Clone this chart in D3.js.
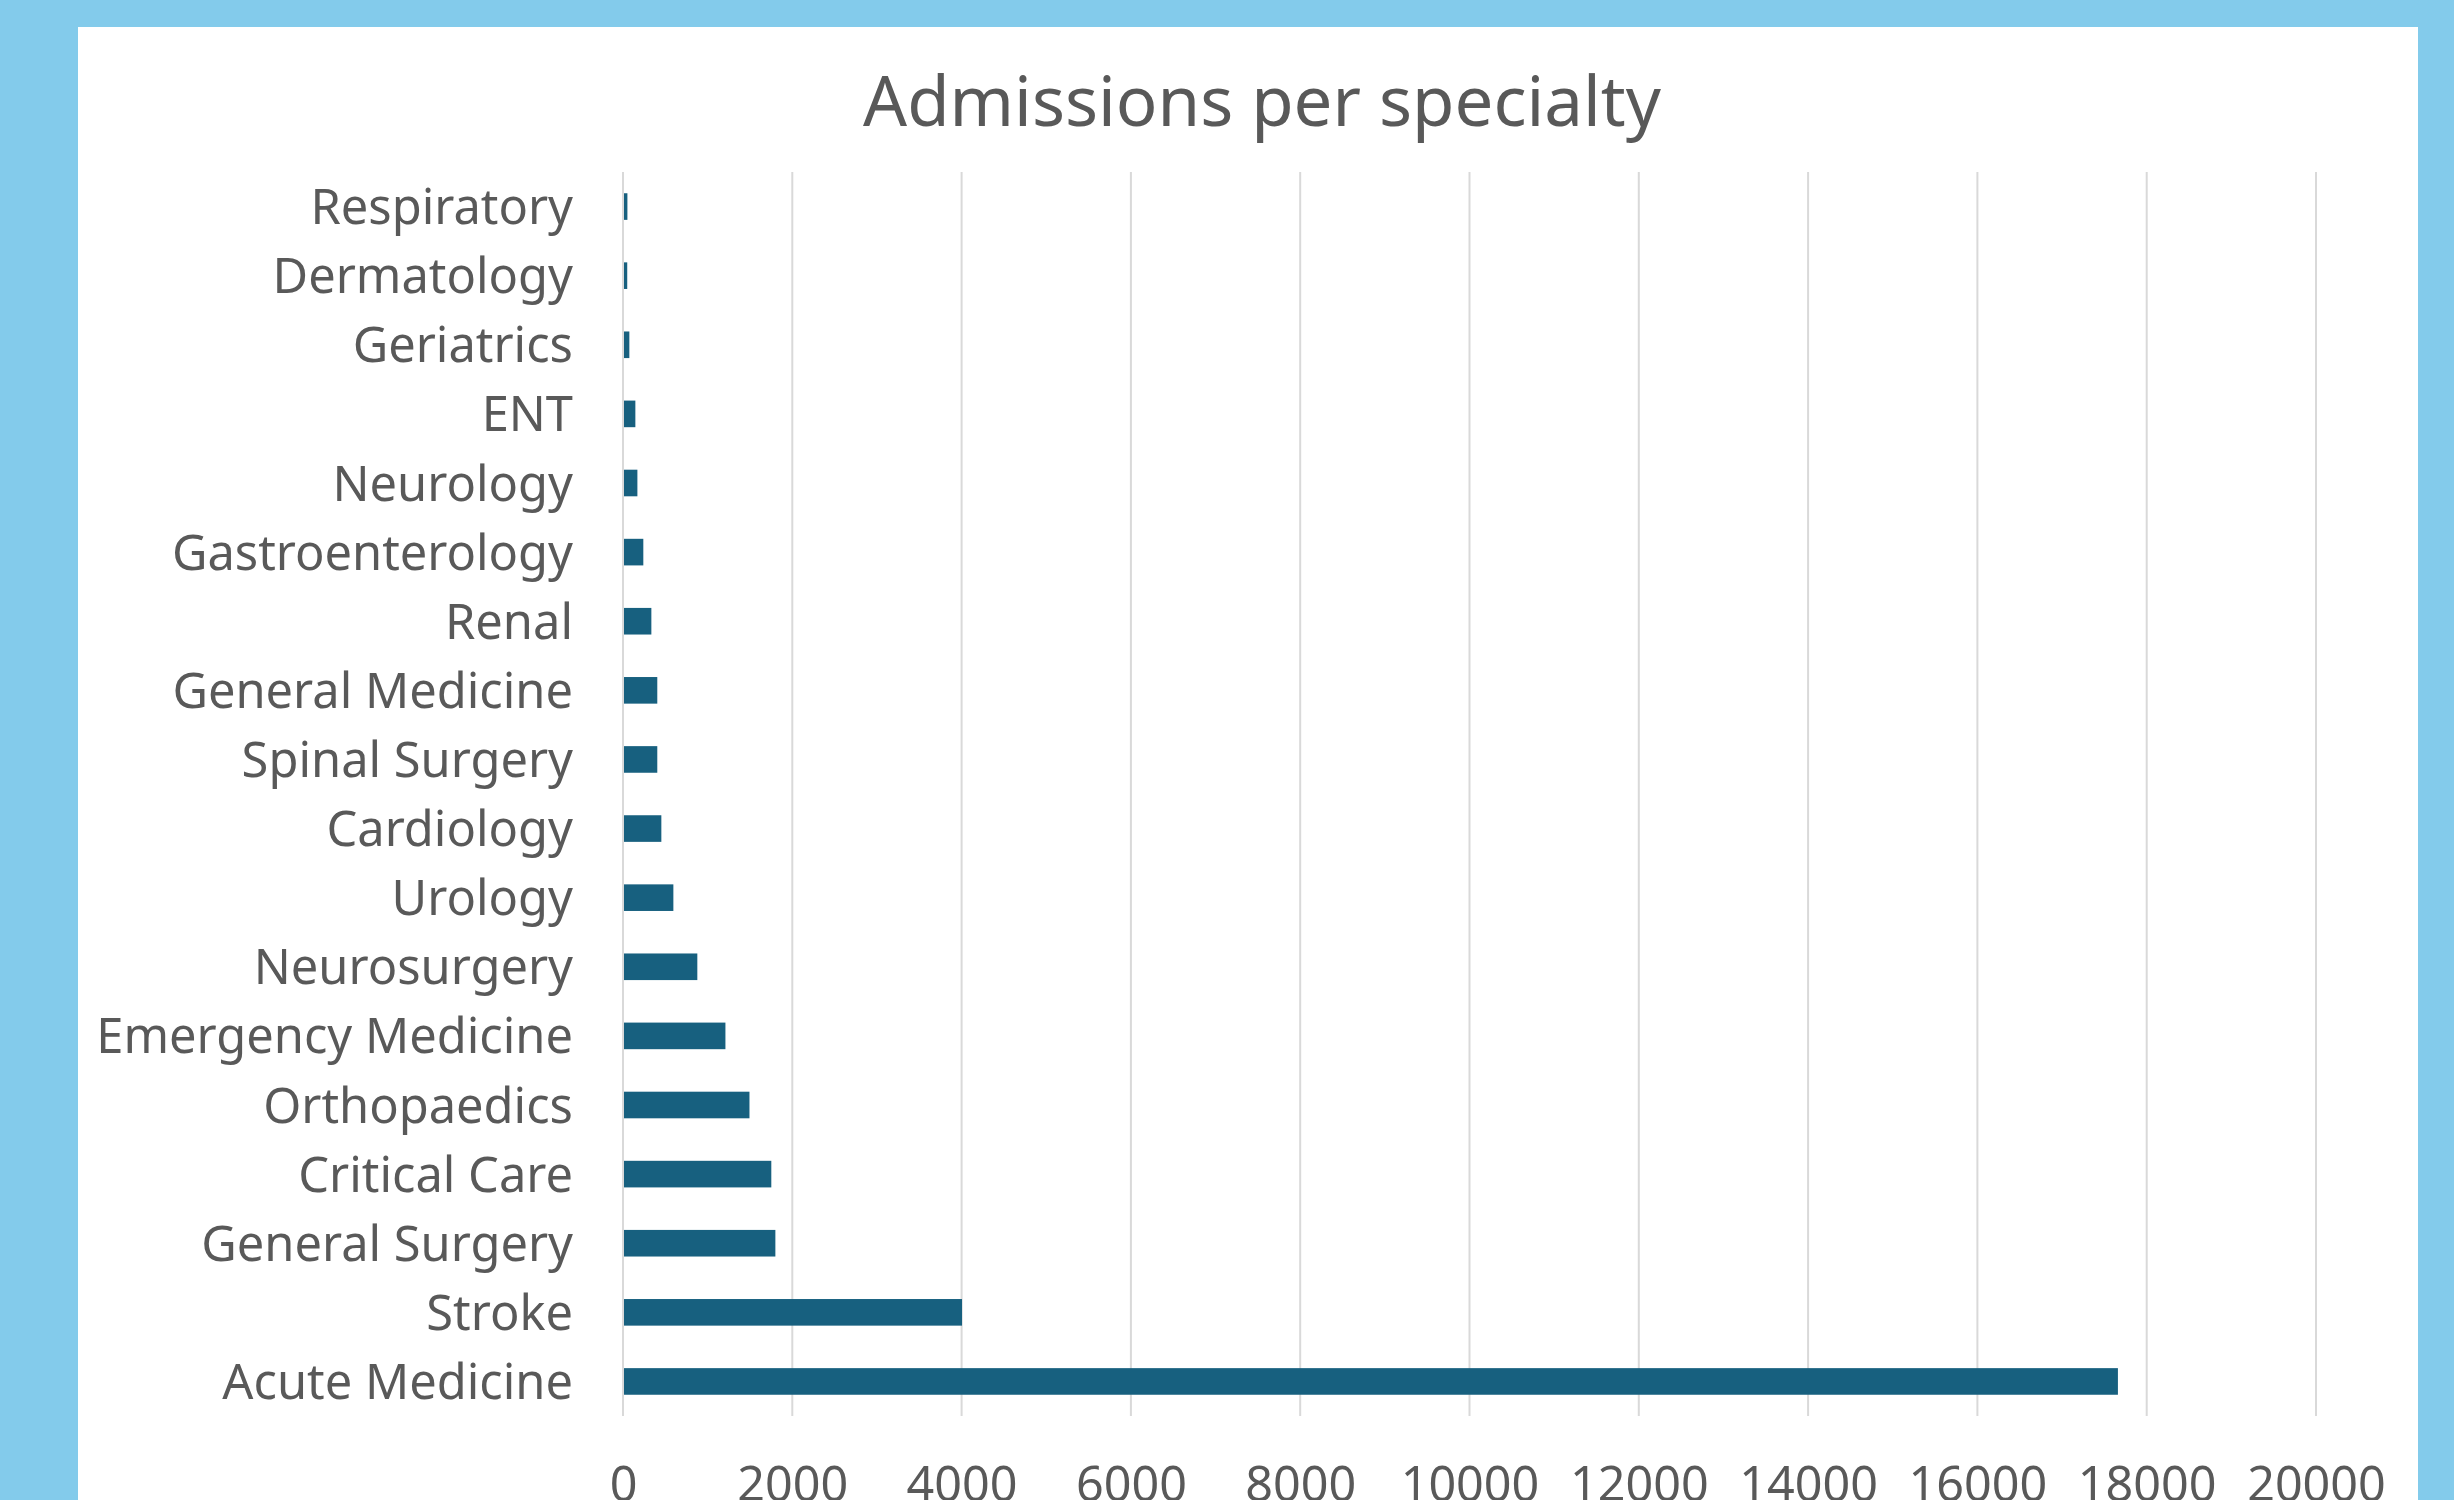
<!DOCTYPE html>
<html>
<head>
<meta charset="utf-8">
<script src="https://cdn.jsdelivr.net/npm/d3@7"></script>
<style>
  html, body { margin: 0; padding: 0; background: #83CBEB; overflow: hidden; }
  svg { display: block; }
</style>
</head>
<body>
<svg id="chart" width="2454" height="1500"></svg>
<script>
// ---- data (top to bottom as displayed) ----
const categories = [
  "Respiratory", "Dermatology", "Geriatrics", "ENT", "Neurology",
  "Gastroenterology", "Renal", "General Medicine", "Spinal Surgery",
  "Cardiology", "Urology", "Neurosurgery", "Emergency Medicine",
  "Orthopaedics", "Critical Care", "General Surgery", "Stroke", "Acute Medicine"
];
const admissions = [
  52, 50, 75, 146, 170,
  240, 335, 405, 405,
  453, 595, 878, 1210,
  1494, 1752, 1800, 4005, 17660
];
const xTicks = [0, 2000, 4000, 6000, 8000, 10000, 12000, 14000, 16000, 18000, 20000];
const chartTitle = "Admissions per specialty";

// ---- layout ----
const W = 2454, H = 1500;
const svg = d3.select("#chart");
const font = "'Noto Sans', 'Open Sans', sans-serif";
const textColor = "#595959";

svg.append("rect").attr("x", 0).attr("y", 0).attr("width", W).attr("height", H).attr("fill", "#83CBEB");
svg.append("rect").attr("x", 78).attr("y", 27).attr("width", 2418 - 78).attr("height", H).attr("fill", "#ffffff");

const plotTop = 172, plotBottom = 1416, plotLeft = 623, plotRight = 2316;

const x = d3.scaleLinear().domain([0, 20000]).range([plotLeft, plotRight]);
const y = d3.scaleBand().domain(categories).range([plotTop, plotBottom])
  .paddingInner(0.615).paddingOuter(0.3075);

// gridlines
svg.append("g").selectAll("line").data(xTicks).join("line")
  .attr("x1", d => x(d)).attr("x2", d => x(d))
  .attr("y1", plotTop).attr("y2", plotBottom)
  .attr("stroke", "#D9D9D9").attr("stroke-width", 2);

// bars
svg.append("g").selectAll("rect").data(categories).join("rect")
  .attr("x", x(0) + 1)
  .attr("y", d => y(d))
  .attr("width", (d, i) => Math.max(0, x(admissions[i]) - x(0) - 1))
  .attr("height", y.bandwidth())
  .attr("fill", "#17607F");

// x axis labels
const xAxis = svg.append("g").attr("transform", `translate(0,${plotBottom})`)
  .call(d3.axisBottom(x).tickValues(xTicks).tickSize(0).tickPadding(0).tickFormat(d3.format("d")));
xAxis.select(".domain").remove();
xAxis.selectAll("text")
  .attr("dy", null).attr("y", 85)
  .attr("fill", textColor)
  .style("font-family", font).style("font-size", "48.5px");

// y axis labels
const yAxis = svg.append("g").attr("transform", `translate(573,0)`)
  .call(d3.axisLeft(y).tickSize(0).tickPadding(0));
yAxis.select(".domain").remove();
yAxis.selectAll("text")
  .attr("dy", "0.36em")
  .attr("fill", textColor)
  .style("font-family", font).style("font-size", "48.8px");

// title
svg.append("text")
  .attr("x", 1262).attr("y", 126)
  .attr("text-anchor", "middle")
  .attr("fill", textColor)
  .style("font-family", font).style("font-size", "69px")
  .text(chartTitle);
</script>
</body>
</html>
